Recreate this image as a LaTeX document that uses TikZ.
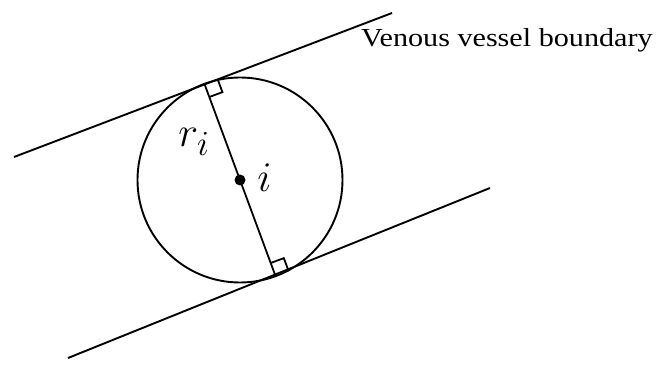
\documentclass[tikz,border=0pt]{standalone}
\usepackage{fontspec}
\setmainfont{Liberation Serif}
\newfontfamily\lblfont[FakeStretch=1.16]{Liberation Serif}
\usetikzlibrary{calc}
\begin{document}
\begin{tikzpicture}[x=1pt,y=1pt,
  ln/.style={line width=1.9pt,black},
  thin/.style={line width=1.8pt,black},
  lbl/.style={inner sep=0pt,font=\lblfont\fontsize{26}{30}\selectfont},
  mlbl/.style={inner sep=0pt,font=\fontsize{24.88}{28}\selectfont,scale=1.7,transform shape}]
\useasboundingbox (0,0) rectangle (656,372);
% vessel boundaries
\coordinate (u1) at (14,215);
\coordinate (u2) at (392,359);
\coordinate (l1) at (68,14);
\coordinate (l2) at (490,184);
\draw[ln] (u1) -- (u2);
\draw[ln] (l1) -- (l2);
% circle
\coordinate (C) at (240,192);
\draw[ln] (C) circle (102.5);
\coordinate (T1) at ($(C)+(110.3:102.5)$);
\coordinate (T2) at ($(C)+(290.3:102.5)$);
\draw[thin] (T1) -- (T2);
% right angle marks
\coordinate (p1) at ($(T1)!14pt!90:(C)$);
\coordinate (q1) at ($(T1)!14pt!(C)$);
\draw[thin] (p1) -- ($(p1)+(q1)-(T1)$) -- (q1);
\coordinate (p2) at ($(T2)!14pt!-90:(C)$);
\coordinate (q2) at ($(T2)!14pt!(C)$);
\draw[thin] (p2) -- ($(p2)+(q2)-(T2)$) -- (q2);
% center point
\fill (C) circle (5.5);
% labels
\node[mlbl,anchor=base west] (ri) at (178,225) {$r_i$};
\node[mlbl,anchor=base west] (ilbl) at (257,180) {$i$};
\node[lbl,anchor=base west] (vvb) at (361,325) {Venous vessel boundary};
\end{tikzpicture}
\end{document}
